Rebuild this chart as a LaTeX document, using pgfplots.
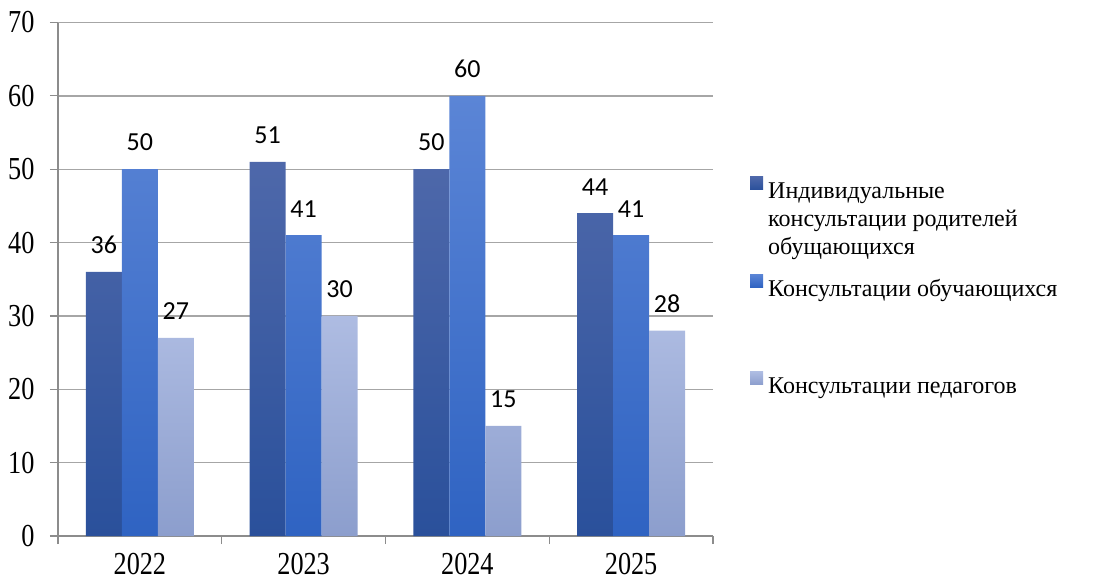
\documentclass[border=0pt]{standalone}
\usepackage{fontspec}
\setmainfont{Liberation Serif}
\newfontfamily\labfont{Carlito}
\newfontfamily\tickfont[FakeStretch=0.82]{Liberation Serif}
\usepackage{pgfplots}
\pgfplotsset{compat=1.18}

\definecolor{aTop}{HTML}{4E68AA}
\definecolor{aBot}{HTML}{2A509B}
\definecolor{bTop}{HTML}{5B85D6}
\definecolor{bBot}{HTML}{2F63C2}
\definecolor{cTop}{HTML}{AEBCE2}
\definecolor{cBot}{HTML}{8C9ECD}
\definecolor{aLeg}{HTML}{3A5BA6}
\definecolor{bLeg}{HTML}{3F6FCC}
\definecolor{cLeg}{HTML}{A0B0DA}
\definecolor{axgray}{HTML}{8C8C8C}
\definecolor{gridgray}{HTML}{A6A6A6}

\begin{document}
\begin{tikzpicture}
\begin{axis}[
    scale only axis,
    width=655bp, height=513.5bp,
    at={(0,0)}, anchor=south west,
    xmin=-0.5, xmax=3.5,
    ymin=0, ymax=70,
    ybar=0pt, bar width=36bp,
    axis x line*=bottom, axis y line*=left,
    axis line style={draw=axgray, line width=1.2bp},
    ymajorgrids,
    grid style={draw=gridgray, line width=1.3bp},
    ytick={0,10,...,70},
    tick align=outside,
    major tick length=8bp,
    tick style={draw=axgray, line width=1.2bp},
    xtick={0,1,2,3},
    xticklabels={2022,2023,2024,2025},
    xtick style={draw=none},
    extra x ticks={-0.5,0.5,1.5,2.5,3.5},
    extra x tick labels={},
    extra x tick style={grid=none, xtick style={draw=axgray, line width=1.2bp}},
    /pgf/number format/assume math mode=true,
    ticklabel style={font=\tickfont\fontsize{32bp}{32bp}\selectfont},
    yticklabel style={xshift=-12bp},
    xticklabel style={inner sep=0pt, yshift=-9bp},
    nodes near coords,
    every node near coord/.append style={font=\labfont\fontsize{26bp}{28bp}\selectfont,
        inner sep=0pt, yshift=18bp, anchor=south, text=black},
    legend style={at={(1,1)}, anchor=north west, xshift=37bp, yshift=-154bp,
        draw=none, fill=none, inner sep=0pt, row sep=74bp,
        font=\fontsize{24bp}{28bp}\selectfont,
        nodes={inner ysep=0bp, inner xsep=5bp}},
    legend cell align=left,
]
\addplot[draw=none, top color=aTop, bottom color=aBot,
    legend image code/.code={\fill[aLeg] (0bp,0bp) rectangle (13bp,13bp);}]
    coordinates {(0,36) (1,51) (2,50) (3,44)};
\addlegendentry{\raisebox{0pt}[\height][0pt]{\begin{tabular}[t]{@{}l@{}}Индивидуальные\\консультации родителей\\обущающихся\end{tabular}}}
\addplot[draw=none, top color=bTop, bottom color=bBot,
    legend image code/.code={\fill[bLeg] (0bp,0bp) rectangle (13bp,13bp);}]
    coordinates {(0,50) (1,41) (2,60) (3,41)};
\addlegendentry{\strut Консультации обучающихся}
\addplot[draw=none, top color=cTop, bottom color=cBot,
    legend image code/.code={\fill[cLeg] (0bp,0bp) rectangle (13bp,13bp);}]
    coordinates {(0,27) (1,30) (2,15) (3,28)};
\addlegendentry{\strut Консультации педагогов}
\end{axis}
\pgfresetboundingbox
\path (-58bp,-42bp) rectangle (1044bp,536bp);
\end{tikzpicture}
\end{document}
